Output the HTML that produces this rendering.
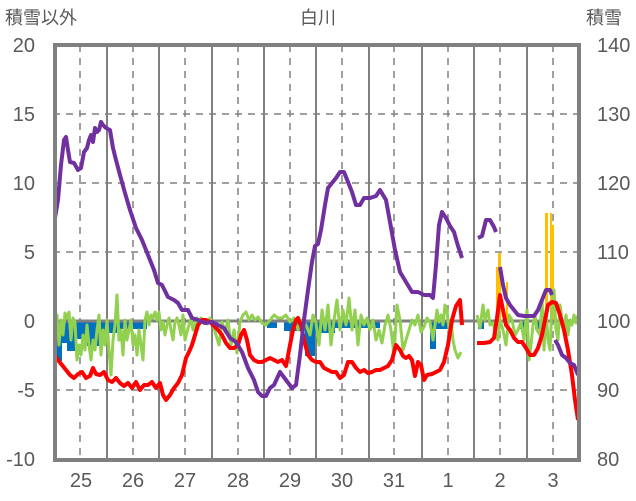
<!DOCTYPE html>
<html><head><meta charset="utf-8"><style>
body{margin:0;background:#fff;}
svg{display:block;font-family:"Liberation Sans","Noto Sans CJK JP",sans-serif;}
</style></head><body>
<svg width="636" height="501" viewBox="0 0 636 501">
<g font-size="20" fill="#595959">
<text x="5" y="24" font-size="18">積雪以外</text>
<text x="318" y="24" text-anchor="middle" font-size="18">白川</text>
<text x="586" y="24" font-size="18">積雪</text>
<g text-anchor="end">
<text x="35" y="52">20</text><text x="35" y="121">15</text><text x="35" y="190">10</text>
<text x="35" y="259">5</text><text x="35" y="328">0</text><text x="35" y="397">-5</text><text x="35" y="466">-10</text>
</g>
<g>
<text x="597" y="52">140</text><text x="597" y="121">130</text><text x="597" y="190">120</text>
<text x="597" y="259">110</text><text x="597" y="328">100</text><text x="597" y="397">90</text><text x="597" y="466">80</text>
</g>
<g text-anchor="middle">
<text x="81" y="487">25</text><text x="133" y="487">26</text><text x="185" y="487">27</text><text x="238" y="487">28</text>
<text x="290" y="487">29</text><text x="342" y="487">30</text><text x="394" y="487">31</text><text x="448" y="487">1</text>
<text x="500" y="487">2</text><text x="553" y="487">3</text>
</g>
</g>
<g stroke="#808080" stroke-width="1.5" stroke-dasharray="7,6">
<line x1="53" y1="114" x2="580" y2="114"/><line x1="53" y1="183" x2="580" y2="183"/><line x1="53" y1="252" x2="580" y2="252"/>
<line x1="53" y1="390" x2="580" y2="390"/>
<line x1="80" y1="45" x2="80" y2="460"/><line x1="133" y1="45" x2="133" y2="460"/><line x1="185" y1="45" x2="185" y2="460"/>
<line x1="238" y1="45" x2="238" y2="460"/><line x1="290" y1="45" x2="290" y2="460"/><line x1="342" y1="45" x2="342" y2="460"/>
<line x1="394" y1="45" x2="394" y2="460"/><line x1="448" y1="45" x2="448" y2="460"/><line x1="500" y1="45" x2="500" y2="460"/>
<line x1="553" y1="45" x2="553" y2="460"/>
</g>
<g stroke="#808080" stroke-width="2">
<line x1="107" y1="45" x2="107" y2="460"/><line x1="159" y1="45" x2="159" y2="460"/><line x1="212" y1="45" x2="212" y2="460"/>
<line x1="264" y1="45" x2="264" y2="460"/><line x1="316" y1="45" x2="316" y2="460"/><line x1="369" y1="45" x2="369" y2="460"/>
<line x1="422" y1="45" x2="422" y2="460"/><line x1="474" y1="45" x2="474" y2="460"/><line x1="527" y1="45" x2="527" y2="460"/>
</g>
<g fill="#0070C0">
<rect x="56" y="321" width="6" height="40"/><rect x="62" y="321" width="5" height="22"/><rect x="67" y="321" width="10" height="30"/>
<rect x="77" y="321" width="10" height="18"/><rect x="87" y="321" width="12" height="25"/><rect x="99" y="321" width="18" height="12"/>
<rect x="117" y="321" width="30" height="8"/><rect x="267" y="321" width="10" height="7"/><rect x="284" y="321" width="20" height="10"/>
<rect x="305" y="321" width="10" height="35"/><rect x="315" y="321" width="20" height="12"/><rect x="335" y="321" width="45" height="7"/>
<rect x="430" y="321" width="6" height="28"/><rect x="436" y="321" width="14" height="8"/><rect x="478" y="321" width="6" height="8"/>
<rect x="520" y="321" width="6" height="8"/><rect x="535" y="321" width="12" height="8"/>
</g>
<g fill="#FFC000">
<rect x="496" y="267" width="3" height="54"/><rect x="498" y="253" width="3" height="68"/><rect x="506" y="282" width="2" height="39"/>
<rect x="545" y="213" width="3" height="108"/><rect x="550" y="213" width="2" height="108"/><rect x="552" y="225" width="2" height="96"/>
</g>
<line x1="53" y1="321" x2="580" y2="321" stroke="#808080" stroke-width="3"/>
<g fill="none" stroke-width="4" stroke-linejoin="round">
<polyline stroke="#92D050" stroke-width="3" points="55,330 57,315 59,345 61,320 63,335 65,313 67,318 69,312 71,340 73,318 75,322 77,360 79,345 81,355 83,335 85,350 87,325 89,345 91,360 93,340 95,350 97,330 99,315 101,355 103,330 105,345 107,320 109,350 111,375 113,340 115,325 117,295 119,340 121,330 123,355 125,320 127,340 129,330 131,320 133,345 135,335 137,355 139,330 141,345 143,360 145,320 147,312 149,325 151,315 153,318 155,312 157,320 159,312 161,330 163,322 165,335 167,325 169,318 171,330 173,340 175,322 177,318 179,325 181,335 183,315 185,340 187,332 189,325 191,318 193,330 195,325 197,318 199,323 201,318 203,321 207,324 210,318 213,325 216,335 219,345 222,322 225,332 228,320 231,345 234,330 237,353 240,322 243,315 246,312 249,320 252,315 255,320 258,317 262,323 266,325 270,320 274,315 278,318 282,318 286,315 290,322 294,318 298,330 302,320 306,325 310,335 313,315 316,323 319,345 322,310 325,330 328,305 331,345 334,320 337,300 340,330 343,310 346,325 349,298 352,330 355,310 358,345 361,315 364,325 367,318 370,330 373,320 376,340 379,330 382,343 385,325 388,315 391,330 394,355 397,305 400,320 403,350 406,340 409,330 412,320 415,325 418,315 421,332 424,327 427,318 430,322 433,340 435,325 437,310 439,322 441,315 443,325 445,305 447,310 449,330 451,322 453,340 455,350 458,358 461,352"/>
<polyline stroke="#92D050" stroke-width="3" points="477,315 480,328 483,305 485,320 488,310 490,325 493,323 496,335 498,340 500,320 503,330 506,345 509,315 512,320 515,335 518,330 521,322 524,340 527,310 529,360 531,345 533,325 535,315 537,330 540,335 542,300 544,350 546,310 548,340 550,350 552,305 554,290 556,330 558,340 560,305 562,320 564,330 566,315 568,335 570,320 572,325 574,315 576,323 578,315"/>
<polyline stroke="#FF0000" points="55,355 58,360 62,365 66,370 70,375 74,378 78,374 82,372 86,378 90,376 93,368 96,374 100,375 104,372 108,380 112,382 116,378 120,383 124,386 128,383 132,388 136,382 140,390 144,385 148,385 152,382 156,388 160,383 163,395 166,400 170,395 174,388 178,383 182,375 186,358 189,352 192,345 195,335 198,325 202,320 206,320 210,322 214,326 218,330 222,335 226,343 230,348 234,348 238,345 241,335 244,330 247,340 250,355 254,360 258,362 262,362 266,360 270,358 274,360 278,362 282,360 286,366 290,345 293,330 296,320 298,318 301,325 304,340 308,355 312,360 316,362 320,362 324,368 328,370 332,372 336,372 340,378 344,375 348,362 352,362 356,368 360,372 364,370 368,373 372,372 376,370 380,370 384,368 388,366 392,360 396,345 400,350 403,356 406,358 409,356 412,360 415,376 418,362 421,365 424,380 427,375 432,374 436,372 440,370 444,362 448,345 452,320 456,306 460,300 462,325"/>
<polyline stroke="#FF0000" points="477,343 484,343 490,342 494,338 497,318 500,295 503,310 506,325 510,330 514,338 518,342 522,342 526,348 530,355 534,355 538,348 542,335 545,320 548,305 552,302 556,303 560,315 564,330 568,350 572,375 575,400 578,420"/>
<polyline stroke="#7030A0" points="55,218 58,200 61,165 64,140 66,137 68,150 70,162 74,163 78,170 81,168 84,152 87,148 89,140 91,135 93,142 95,128 97,132 99,130 101,122 103,125 106,128 110,130 113,148 116,160 120,175 125,193 130,210 136,228 142,240 148,255 154,270 158,283 162,285 168,297 174,300 178,303 182,310 188,310 192,318 198,320 205,323 212,322 218,325 224,328 230,338 236,342 242,352 248,368 254,380 258,392 262,396 266,396 270,388 274,385 280,372 286,380 292,388 296,385 300,355 304,320 308,290 312,262 315,246 318,244 321,230 325,205 328,188 332,183 336,178 340,172 344,172 348,182 352,192 356,205 360,205 364,198 370,198 376,196 380,190 383,195 386,200 390,222 395,250 400,272 406,282 412,292 418,292 424,295 430,295 433,298 436,265 439,225 442,212 446,218 450,226 454,232 458,246 462,258"/>
<polyline stroke="#7030A0" points="478,238 482,236 486,220 490,220 494,227 496,232"/>
<polyline stroke="#7030A0" points="500,267 503,285 506,298 510,305 514,310 518,315 524,316 530,316 534,316 538,310 542,300 546,290 550,290 552,295"/>
<polyline stroke="#7030A0" points="555,340 558,345 562,355 566,358 570,363 574,365 578,375"/>
</g>
<rect x="55" y="45" width="524" height="415" fill="none" stroke="#808080" stroke-width="4"/>
</svg>
</body></html>
